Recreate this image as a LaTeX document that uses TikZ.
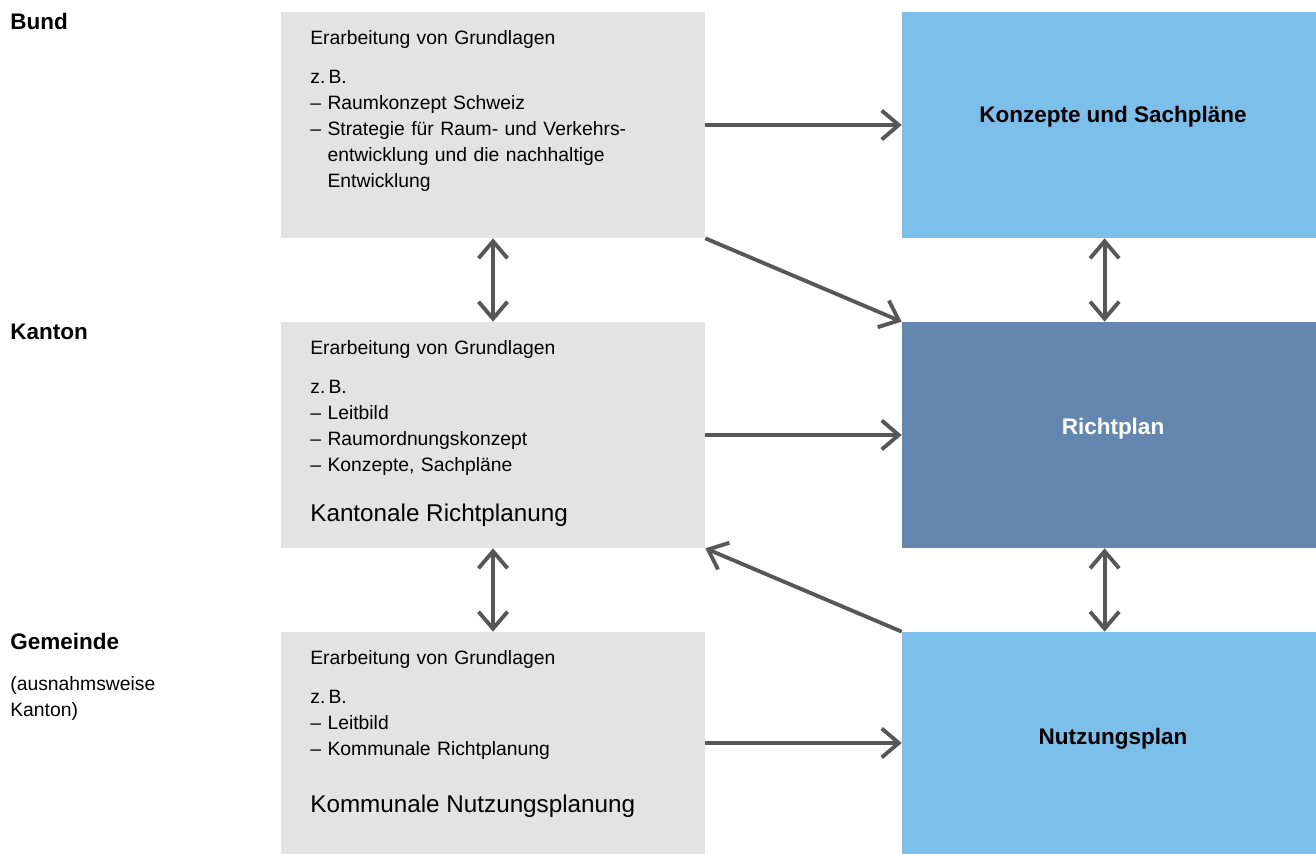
\documentclass[tikz,border=0pt]{standalone}
\usepackage{fontspec}
\setmainfont{Liberation Sans}
\usetikzlibrary{arrows.meta,positioning}
\definecolor{boxgrey}{HTML}{E3E3E3}
\definecolor{lightblue}{HTML}{7BBFEA}
\definecolor{darkblue}{HTML}{6487AF}
\definecolor{arrowgrey}{HTML}{575757}
\tikzstyle{level} = [anchor=base west, inner sep=0pt, font=\fontsize{12.8}{15}\selectfont\bfseries]
\tikzstyle{note} = [anchor=base west, inner sep=0pt, text width=4cm, align=left, font=\fontsize{11}{14.74}\selectfont]
\tikzstyle{greybox} = [rectangle, inner sep=0pt, minimum width=8.48cm, minimum height=4.52cm, fill=boxgrey]
\tikzstyle{bluebox} = [rectangle, inner sep=0pt, minimum width=8.28cm, minimum height=4.52cm, fill=lightblue]
\tikzstyle{plan} = [inner sep=0pt, font=\fontsize{12.8}{15}\selectfont\bfseries]
\tikzstyle{boxtext} = [anchor=base west, inner sep=0pt, text width=7.8cm, align=left, font=\fontsize{11}{14.74}\selectfont]
\tikzstyle{bigtext} = [anchor=base west, inner sep=0pt, font=\fontsize{13.8}{17}\selectfont]
\tikzstyle{arrow} = [line width=2.2pt, draw=arrowgrey, -{Straight Barb[length=3.4mm,width=5.8mm]}]
\tikzstyle{twoway} = [arrow, {Straight Barb[length=3.4mm,width=5.8mm]}-{Straight Barb[length=3.4mm,width=5.8mm]}]

\begin{document}
\begin{tikzpicture}[x=0.02cm, y=-0.02cm]
\useasboundingbox (0,0) rectangle (1316,854);

% levels
\node (bund) [level] at (10,30) {Bund};
\node (kanton) [level] at (10,340) {Kanton};
\node (gemeinde) [level] at (10,650) {Gemeinde};
\node (gemnote) [note] at (10,691) {(ausnahmsweise\\Kanton)};

% grey boxes
\node (bundbox) [greybox] at (493,125) {};
\node (kantonbox) [greybox] at (493,435) {};
\node (gemeindebox) [greybox, minimum height=4.44cm] at (493,743) {};

\node (bundtext) [boxtext] at (310,45) {Erarbeitung von Grundlagen\\[7.4pt]
  z.\,B.\\
  – Raumkonzept Schweiz\\
  – Strategie für Raum- und Verkehrs-\\
  \hphantom{–\ }entwicklung und die nachhaltige\\
  \hphantom{–\ }Entwicklung};
\node (kantontext) [boxtext] at (310,355) {Erarbeitung von Grundlagen\\[7.4pt]
  z.\,B.\\
  – Leitbild\\
  – Raumordnungskonzept\\
  – Konzepte, Sachpläne};
\node (krp) [bigtext] at (310,522) {Kantonale Richtplanung};
\node (gemeindetext) [boxtext] at (310,665) {Erarbeitung von Grundlagen\\[7.4pt]
  z.\,B.\\
  – Leitbild\\
  – Kommunale Richtplanung};
\node (knp) [bigtext] at (310,812) {Kommunale Nutzungsplanung};

% blue boxes
\node (ks) [bluebox] at (1109,125) {};
\node (rp) [bluebox, fill=darkblue] at (1109,435) {};
\node (nu) [bluebox, minimum height=4.44cm] at (1109,743) {};
\node (kslabel) [plan] at (1113,117) {Konzepte und Sachpläne};
\node (rplabel) [plan, white] at (1113,429) {Richtplan};
\node (nulabel) [plan] at (1113,739) {Nutzungsplan};

% arrows
\draw [arrow] (bundbox.east) -- (ks.west);
\draw [arrow] (bundbox.south east) -- (rp.north west);
\draw [arrow] (kantonbox.east) -- (rp.west);
\draw [arrow] (nu.north west) -- (kantonbox.south east);
\draw [arrow] (gemeindebox.east) -- (nu.west);
\draw [twoway] (bundbox.south) -- (kantonbox.north);
\draw [twoway] (kantonbox.south) -- (gemeindebox.north);
\draw [twoway] ([xshift=-2.5pt]ks.south) -- ([xshift=-2.5pt]rp.north);
\draw [twoway] ([xshift=-2.5pt]rp.south) -- ([xshift=-2.5pt]nu.north);

\end{tikzpicture}
\end{document}
